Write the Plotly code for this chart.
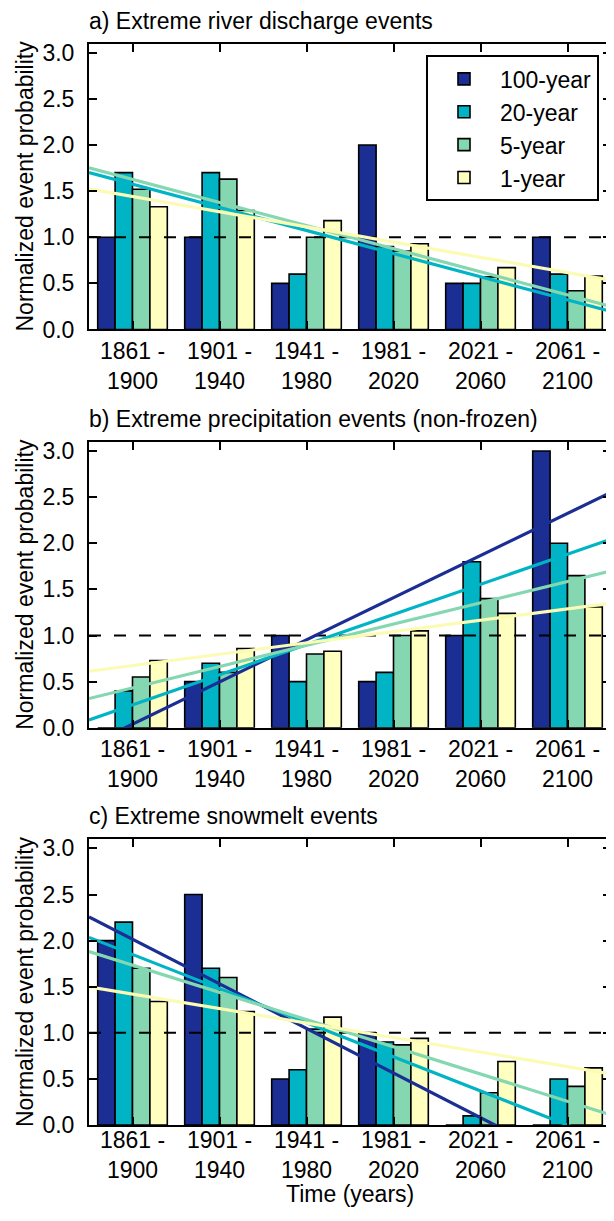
import plotly.graph_objects as go

# ---------------- data ----------------
periods = ["1861 -<br>1900", "1901 -<br>1940", "1941 -<br>1980",
           "1981 -<br>2020", "2021 -<br>2060", "2061 -<br>2100"]
series_names = ["100-year", "20-year", "5-year", "1-year"]

discharge_100 = [1.0, 1.0, 0.5, 2.0, 0.5, 1.0]
discharge_20 = [1.7, 1.7, 0.6, 0.9, 0.5, 0.6]
discharge_5 = [1.52, 1.63, 1.0, 0.85, 0.57, 0.42]
discharge_1 = [1.33, 1.29, 1.18, 0.93, 0.67, 0.58]

precip_100 = [0.0, 0.5, 1.0, 0.5, 1.0, 3.0]
precip_20 = [0.4, 0.7, 0.5, 0.6, 1.8, 2.0]
precip_5 = [0.55, 0.6, 0.8, 1.0, 1.4, 1.65]
precip_1 = [0.73, 0.86, 0.83, 1.05, 1.24, 1.31]

snow_100 = [2.0, 2.5, 0.5, 1.0, 0.0, 0.0]
snow_20 = [2.2, 1.7, 0.6, 0.9, 0.1, 0.5]
snow_5 = [1.7, 1.6, 1.04, 0.87, 0.35, 0.42]
snow_1 = [1.34, 1.23, 1.17, 0.94, 0.69, 0.62]

# linear trend values at the first and last period (None = no trend drawn)
discharge_trend_first = [None, 1.575, 1.628, 1.442]
discharge_trend_last = [None, 0.321, 0.375, 0.617]
precip_trend_first = [0.039, 0.248, 0.432, 0.674]
precip_trend_last = [2.324, 1.882, 1.585, 1.289]
snow_trend_first = [2.015, 1.85, 1.734, 1.421]
snow_trend_last = [-0.403, 0.0, 0.258, 0.634]

panel_titles = ["a) Extreme river discharge events",
                "b) Extreme precipitation events (non-frozen)",
                "c) Extreme snowmelt events"]
y_ticks = [0.0, 0.5, 1.0, 1.5, 2.0, 2.5, 3.0]
reference_level = 1.0

# ---------------- style ----------------
bar_colors = ["#1b2e93", "#00b4c5", "#84d7b0", "#ffffbf"]
line_colors = ["#1b2e93", "#00b4c5", "#84d7b0", "#fbfbb4"]
FONT = "Liberation Sans, Arial, Helvetica, sans-serif"
FS = 23
OFF = 8                      # default body margin of the html page
W, H = 614 - OFF, 1221 - 2 * OFF
X_RANGE = [-0.5, 5.5]
Y_RANGE = [0, 3.1]


def px(v):
    return (v - OFF) / W


def py(v):
    return 1 - (v - OFF) / H


# page-pixel boxes of the three panels (left, right, top, bottom)
boxes = [(89, 611, 40, 330), (89, 611, 444, 734), (89, 611, 847, 1137)]
x_label_standoffs = [0, 0, -7]

panels = [
    ([discharge_100, discharge_20, discharge_5, discharge_1],
     discharge_trend_first, discharge_trend_last),
    ([precip_100, precip_20, precip_5, precip_1],
     precip_trend_first, precip_trend_last),
    ([snow_100, snow_20, snow_5, snow_1],
     snow_trend_first, snow_trend_last),
]

fig = go.Figure()
x_pos = list(range(len(periods)))
n_last = len(periods) - 1

for p, (values, t_first, t_last) in enumerate(panels):
    xa = "x" if p == 0 else f"x{p + 1}"
    ya = "y" if p == 0 else f"y{p + 1}"
    for k, name in enumerate(series_names):
        fig.add_trace(go.Bar(
            x=x_pos, y=values[k], name=name, xaxis=xa, yaxis=ya,
            marker=dict(color=bar_colors[k], line=dict(color="black", width=1.6)),
            showlegend=(p == 0), legendgroup=name,
        ))
    # dashed reference line at 1.0
    fig.add_trace(go.Scatter(
        x=X_RANGE, y=[reference_level, reference_level], mode="lines",
        line=dict(color="black", width=2, dash="12px,13px"),
        xaxis=xa, yaxis=ya, showlegend=False, hoverinfo="skip",
    ))
    # trend lines, extended over the axis range
    for k in range(len(series_names)):
        if t_first[k] is None:
            continue
        slope = (t_last[k] - t_first[k]) / n_last
        ys = [t_first[k] + slope * xv for xv in X_RANGE]
        fig.add_trace(go.Scatter(
            x=X_RANGE, y=ys, mode="lines",
            line=dict(color=line_colors[k], width=3.2),
            xaxis=xa, yaxis=ya, showlegend=False, hoverinfo="skip",
        ))

layout = dict(
    width=W, height=H, margin=dict(l=0, r=0, t=0, b=0),
    paper_bgcolor="white", plot_bgcolor="white",
    barmode="group", bargap=0.2, bargroupgap=0,
    font=dict(family=FONT, size=FS, color="black"),
    legend=dict(
        x=px(599), xanchor="right", y=py(52), yanchor="top",
        bordercolor="black", borderwidth=2, bgcolor="white",
        font=dict(size=FS, family=FONT, color="black"),
        itemwidth=62, tracegroupgap=0,
    ),
)

annotations = []
for p, (l, r, t, b) in enumerate(boxes):
    sfx = "" if p == 0 else str(p + 1)
    layout["xaxis" + sfx] = dict(
        domain=[px(l), px(r)], anchor="y" + sfx, range=X_RANGE,
        tickvals=x_pos, ticktext=periods, ticks="inside", ticklen=8,
        tickwidth=1.5, tickcolor="black", showline=True, linecolor="black",
        linewidth=2, mirror="ticks", showgrid=False, zeroline=False,
        tickfont=dict(size=FS, family=FONT, color="black"),
        ticklabelstandoff=x_label_standoffs[p],
    )
    layout["yaxis" + sfx] = dict(
        domain=[py(b), py(t)], anchor="x" + sfx, range=Y_RANGE,
        tickvals=y_ticks, tickformat=".1f", ticks="inside", ticklen=8,
        tickwidth=1.5, tickcolor="black", showline=True, linecolor="black",
        linewidth=2, mirror="ticks", showgrid=False, zeroline=False,
        tickfont=dict(size=FS, family=FONT, color="black"),
        ticklabelstandoff=8,
    )
    annotations.append(dict(
        text=panel_titles[p], xref="paper", yref="paper",
        x=px(l - 2), xanchor="left", y=py(t - 8), yanchor="bottom",
        showarrow=False, font=dict(size=FS, family=FONT, color="black"),
    ))
    annotations.append(dict(
        text="Normalized event probability", xref="paper", yref="paper",
        x=px(25), xanchor="center", y=py((t + b) / 2), yanchor="middle",
        textangle=-90, showarrow=False,
        font=dict(size=FS, family=FONT, color="black"),
    ))

annotations.append(dict(
    text="Time (years)", xref="paper", yref="paper",
    x=px(350), xanchor="center", y=py(1207), yanchor="middle", borderpad=0,
    showarrow=False, font=dict(size=FS, family=FONT, color="black"),
))
layout["annotations"] = annotations

fig.update_layout(**layout)
fig.write_html("out.html")
